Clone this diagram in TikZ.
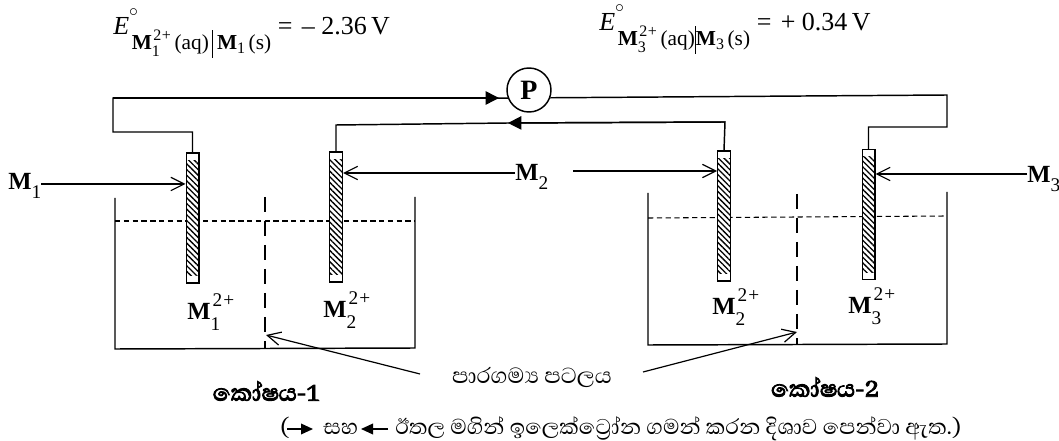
\documentclass[tikz,border=0pt]{standalone}
\usepackage{fontspec}
\usepackage{fix-cm}
\setmainfont{Liberation Serif}
\newfontfamily\sinfont[Script=Sinhala]{Abhaya Libre}
\newfontfamily\sinbold[Script=Sinhala,FakeBold=3]{Abhaya Libre}
\usetikzlibrary{arrows.meta,patterns.meta,calc}
\newcommand{\smalldig}[1]{{\fontsize{14.5}{15}\selectfont #1}}
\newcommand{\msub}[1]{{\bfseries M}\raisebox{-6.5pt}{\smalldig{#1}}}
\newcommand{\ionlabel}[1]{{\bfseries M}\rlap{\raisebox{-8pt}{\smalldig{#1}}}\hspace{1.5pt}\raisebox{10pt}{\smalldig{2\hspace{.8pt}+}}}
\newcommand{\subion}[1]{\mbox{\fontsize{16}{16}\selectfont{\bfseries M}\rlap{\raisebox{-5pt}{\fontsize{12}{12}\selectfont #1}}\hspace{1pt}\raisebox{7pt}{\fontsize{12}{12}\selectfont 2\hspace{.5pt}+}}}
\newcommand{\potential}[3]{\textit{E}\rlap{\raisebox{7pt}{\fontsize{19}{19}\selectfont$^{\circ}$}}\hspace{2pt}\raisebox{-11pt}{\fontsize{16}{16}\selectfont\subion{#1}\,(aq)#3\rule[-6pt]{.8pt}{21pt}#3{\bfseries M}\raisebox{-3pt}{\fontsize{12}{12}\selectfont #1}\,(s)}\hspace{5pt}=\hspace{7pt}#2}
\tikzset{
  wire/.style={line width=1.1pt,line join=miter},
  wall/.style={line width=1.1pt},
  level/.style={line width=.8pt,dash pattern=on 4pt off 2.6pt},
  divider/.style={line width=.9pt,dash pattern=on 11pt off 7pt},
  pointer/.style={line width=.9pt,-{Straight Barb[length=10pt,width=10pt,line width=.9pt]}},
  flow/.style={line width=1.1pt,-{Triangle[length=10pt,width=10pt]}},
  smallflow/.style={line width=1.1pt,-{Triangle[length=9pt,width=8pt]}},
  electrode/.style={draw,line width=1pt,fill=white,minimum width=9.5pt,minimum height=97.5pt,inner sep=0pt},
  hatch/.style={pattern={Lines[angle=-45,distance=3pt,line width=1pt]}},
  lab/.style={inner sep=0pt,anchor=base west,font=\fontsize{18.5}{22}\selectfont},
  eqn/.style={inner sep=0pt,anchor=base west,font=\fontsize{19.5}{22}\selectfont},
  sin/.style={inner sep=0pt,font=\fontsize{21}{24}\selectfont\sinfont},
  sinb/.style={inner sep=0pt,font=\fontsize{22.5}{24}\selectfont\sinbold},
  notetext/.style={inner sep=0pt,anchor=base west,font=\fontsize{20.6}{24}\selectfont\sinfont},
}
\begin{document}
\begin{tikzpicture}[x=0.75pt,y=-0.75pt]
\useasboundingbox (0,0) rectangle (1059,441);
% water levels and beakers
\draw[level] (115,221) -- (415,221);
\draw[level] (648,218) -- (947,216);
\draw[wall] (115,198) -- (115,349) -- (415,348) -- (415,197);
\draw[wall] (648,193) -- (648,345) -- (947,344) -- (947,192);
\draw[divider] (265,197) -- (265,349);
\draw[divider] (797,194) -- (797,345);
% electrodes
\node[electrode] (e1) at (192.5,218) {};
\node[electrode] (e2) at (336,217) {};
\node[electrode] (e3) at (724,216) {};
\node[electrode] (e4) at (868.5,214.5) {};
\foreach \e in {e1,e2,e3,e4}
  \fill[hatch] ($(\e.north west)+(1,8)$) rectangle ($(\e.south east)+(-1,-8)$);
% pump
\node[circle,draw,line width=1.1pt,minimum size=33pt,inner sep=0pt,font=\fontsize{21}{21}\selectfont\bfseries] (P) at (529,90) {P};
% outer circuit
\coordinate (c1) at (113,132);
\coordinate (c2) at (113,98);
\coordinate (t1) at (499,98);
\coordinate (c3) at (947,95);
\coordinate (c4) at (947,127);
\coordinate (l1) at (336,125);
\coordinate (l2) at (725,122);
\coordinate (t2) at (508,123);
\draw[wire] (e1.north) -- (e1.north |- c1) -- (c1) -- (c2) -- (P.201);
\draw[flow] (c2) -- (t1);
\draw[wire] (P.340) -- (c3) -- (c4) -- (e4.north |- c4) -- (e4.north);
\draw[wire] (e2.north) -- (l1) -- (t2);
\draw[wire] (t2) -- (l2) -- (e3.north);
\draw[flow] (l2) -- (t2);
% metal labels
\node[lab] (m1) at (8,190) {\msub{1}};
\node[lab] (m2) at (515,181) {\msub{2}};
\node[lab] (m3) at (1027,183) {\msub{3}};
\coordinate (s2) at (573,171);
\draw[pointer] (m1.east |- 0,184) -- (e1.west |- 0,184);
\draw[pointer] (m2.west |- 0,173) -- (e2.east |- 0,173);
\draw[pointer] (s2) -- (e3.west |- s2);
\draw[pointer] (m3.west |- 0,174) -- (e4.east |- 0,174);
% ions
\node[lab] (i1) at (187,320) {\ionlabel{1}};
\node[lab] (i2) at (323,318) {\ionlabel{2}};
\node[lab] (i3) at (712,315) {\ionlabel{2}};
\node[lab] (i4) at (848,314) {\ionlabel{3}};
% membrane
\node[sin] (mem) at (532,377) {පාරගම්‍ය පටලය};
\coordinate (d1) at (266,335);
\coordinate (d2) at (797,332);
\coordinate (f1) at (420,374);
\coordinate (f2) at (643,372);
\draw[pointer] (f1) -- (d1);
\draw[pointer] (f2) -- (d2);
% cell names
\node[sinb] (k1) at (266,391) {කෝෂය-1};
\node[sinb] (k2) at (825,387) {කෝෂය-2};
% note
\node[notetext] (n0) at (280,434) {(};
\node[notetext] (n1) at (323,434) {සහ};
\node[notetext] (n2) at (395,434) {ඊතල මගින් ඉලෙක්ට්‍රෝන ගමන් කරන දිශාව පෙන්වා ඇත.)};
\coordinate (a1) at (287,429);
\coordinate (a2) at (313,429);
\coordinate (a3) at (388,429);
\coordinate (a4) at (361,429);
\draw[smallflow] (a1) -- (a2);
\draw[smallflow] (a3) -- (a4);
% potentials
\node[eqn] (p1) at (113,35) {\potential{1}{-- 2.36\,V}{\,}};
\node[eqn] (p2) at (599,31) {\potential{3}{+ 0.34\,V}{}};
\end{tikzpicture}
\end{document}
